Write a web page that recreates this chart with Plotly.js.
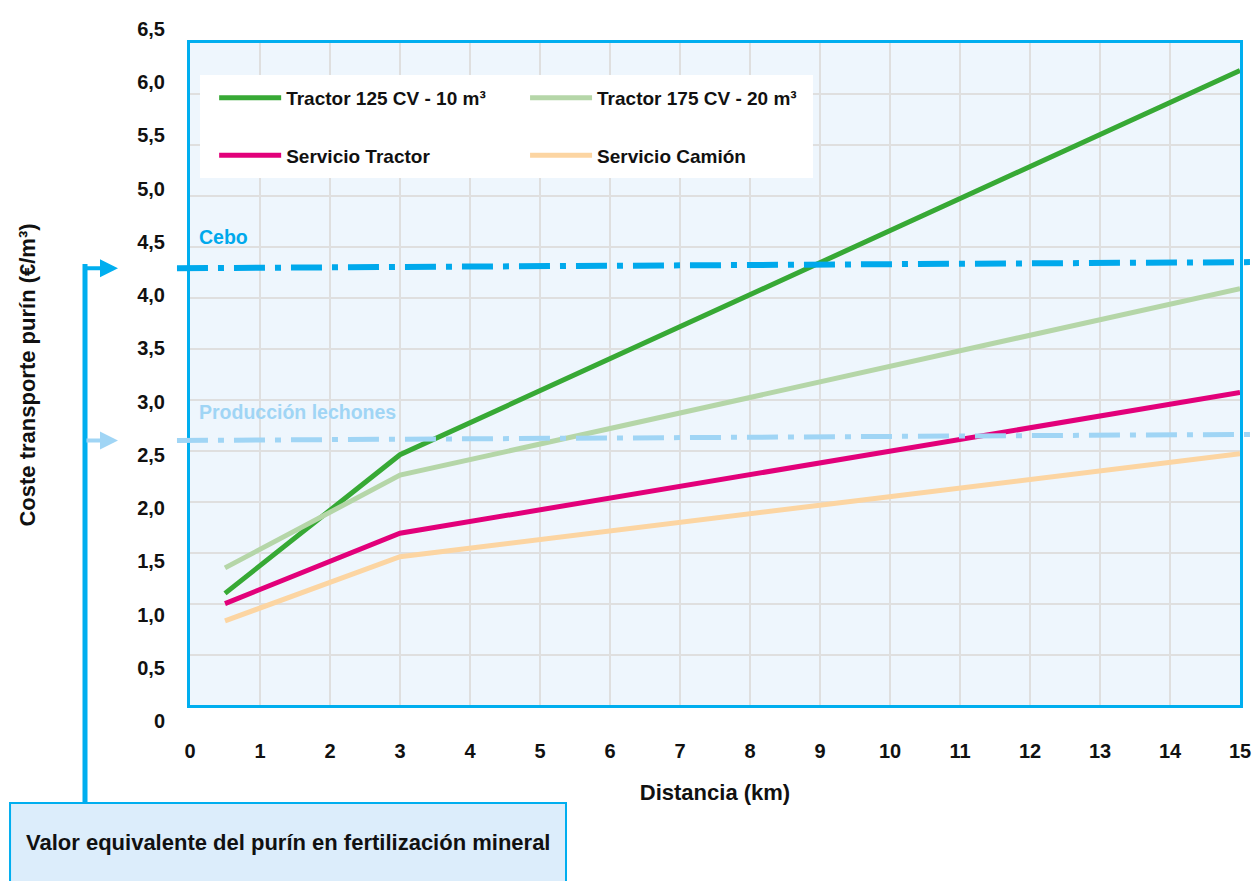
<!DOCTYPE html>
<html>
<head>
<meta charset="utf-8">
<script src="https://cdn.plot.ly/plotly-3.0.1.min.js"></script>
<style>html,body{margin:0;padding:0;background:#fff;}#chart{width:1253px;height:881px;}</style>
</head>
<body>
<div id="chart"></div>
<script>
// ---- data ----
const distanceKm = [0.5, 3, 15];
const tractor125 = [1.10, 2.46, 6.23];
const tractor175 = [1.35, 2.26, 4.09];
const servicioTractor = [1.00, 1.69, 3.07];
const servicioCamion = [0.83, 1.46, 2.47];
const ceboLevel = [4.29, 4.35];          // left end, right end
const lechonesLevel = [2.60, 2.66];      // left end, right end
const seriesNames = ['Tractor 125 CV - 10 m³', 'Tractor 175 CV - 20 m³', 'Servicio Tractor', 'Servicio Camión'];
const xTickVals = [0,1,2,3,4,5,6,7,8,9,10,11,12,13,14,15];
const yTickVals = [0,0.5,1,1.5,2,2.5,3,3.5,4,4.5,5,5.5,6,6.5];
const yTickText = ['0','0,5','1,0','1,5','2,0','2,5','3,0','3,5','4,0','4,5','5,0','5,5','6,0','6,5'];
const levelLabels = ['Cebo', 'Producción lechones'];
const xTitle = 'Distancia (km)';
const yTitle = 'Coste transporte purín (€/m³)';
const boxText = 'Valor equivalente del purín en fertilización mineral';

const FONT = "'Liberation Sans', Arial, Helvetica, sans-serif";
const BLUE = '#00a9ec';
const LIGHTBLUE = '#a0d5f5';

function lineTrace(y, name, color, legend, group) {
  return {
    x: distanceKm, y: y, name: name, type: 'scatter', mode: 'lines',
    line: {color: color, width: 5}, legend: legend, legendgroup: group,
    hoverinfo: 'skip'
  };
}

const data = [
  lineTrace(tractor125, seriesNames[0], '#37a935', 'legend', 'a'),
  lineTrace(tractor175, seriesNames[1], '#b5d6a8', 'legend2', 'c'),
  lineTrace(servicioTractor, seriesNames[2], '#e2007a', 'legend', 'b'),
  lineTrace(servicioCamion, seriesNames[3], '#fcd5a2', 'legend2', 'd'),
  {x: [null], y: [null], xaxis: 'x2', yaxis: 'y2', type: 'scatter', mode: 'lines', showlegend: false, hoverinfo: 'skip'}
];

const legendCommon = {
  orientation: 'v', bgcolor: 'rgba(0,0,0,0)', borderwidth: 0,
  font: {family: FONT, size: 19, color: '#111', weight: 'bold'},
  itemwidth: 62, tracegroupgap: 30, xanchor: 'left', yanchor: 'top',
  itemclick: false, itemdoubleclick: false
};

const layout = {
  width: 1253, height: 881,
  margin: {l: 190, r: 13, t: 29, b: 160},
  paper_bgcolor: '#ffffff', plot_bgcolor: 'rgba(0,0,0,0)',
  hovermode: false, showlegend: true,
  font: {family: FONT, color: '#111'},
  xaxis: {
    range: [0, 15], tickvals: xTickVals, showgrid: true, gridcolor: '#dfdfdf', gridwidth: 2,
    zeroline: false, showline: true, mirror: true, linecolor: '#00aeef', linewidth: 3,
    ticks: '', ticklabelstandoff: 26, ticklabeloverflow: 'allow', anchor: 'y',
    tickfont: {family: FONT, size: 20, color: '#111', weight: 'bold'},
    title: {text: xTitle, standoff: 24, font: {family: FONT, size: 22, color: '#111', weight: 'bold'}},
    automargin: 'height'
  },
  yaxis: {
    domain: [0.0224, 0.9798], range: [0, 6.5], dtick: 0.5, showticklabels: false,
    showgrid: true, gridcolor: '#dfdfdf', gridwidth: 2, zeroline: false,
    showline: true, mirror: true, linecolor: '#00aeef', linewidth: 3, ticks: '', anchor: 'x'
  },
  xaxis2: {domain: [0, 1], range: [0, 1], visible: false, anchor: 'y2'},
  yaxis2: {
    domain: [0, 1], range: [0, 6.5], anchor: 'x2', tickvals: yTickVals, ticktext: yTickText,
    showgrid: false, zeroline: false, showline: false, ticks: '', ticklabelstandoff: 24, ticklabeloverflow: 'allow',
    tickfont: {family: FONT, size: 20, color: '#111', weight: 'bold'},
    title: {text: yTitle, standoff: 95, font: {family: FONT, size: 22, color: '#111', weight: 'bold'}},
    automargin: 'width'
  },
  legend: Object.assign({}, legendCommon, {x: 0.023, y: 0.928}),
  legend2: Object.assign({}, legendCommon, {x: 0.3191, y: 0.928}),
  shapes: [
    {type: 'rect', xref: 'x', yref: 'y', x0: 0, x1: 15, y0: 0, y1: 6.5, fillcolor: '#eef6fd', line: {width: 0}, layer: 'below'},
    {type: 'rect', xref: 'paper', yref: 'paper', x0: 0.0095, x1: 0.5933, y0: 0.7847, y1: 0.9335, fillcolor: '#ffffff', line: {width: 0}, layer: 'above'},
    {type: 'line', xref: 'paper', yref: 'y', x0: -0.0124, x1: 1.0095, y0: ceboLevel[0], y1: ceboLevel[1],
     line: {color: BLUE, width: 6, dash: '31px,10px,6px,10px'}, layer: 'above'},
    {type: 'line', xref: 'paper', yref: 'y', x0: -0.0124, x1: 1.0095, y0: lechonesLevel[0], y1: lechonesLevel[1],
     line: {color: LIGHTBLUE, width: 5, dash: '31px,10px,6px,10px'}, layer: 'above'},
    {type: 'line', xref: 'paper', yref: 'paper', x0: -0.1, x1: -0.1, y0: -0.1185, y1: 0.6604, line: {color: '#00aeef', width: 5}},
    {type: 'rect', xref: 'paper', yref: 'paper', x0: -0.1714, x1: 0.3581, y0: -0.237, y1: -0.1185,
     fillcolor: '#dcedfb', line: {color: '#00aeef', width: 2}}
  ],
  annotations: [
    {xref: 'x', yref: 'y', x: 0.1, y: 4.6, text: levelLabels[0], showarrow: false, xanchor: 'left', yanchor: 'middle',
     font: {family: FONT, size: 19.5, color: BLUE, weight: 'bold'}},
    {xref: 'x', yref: 'y', x: 0.1, y: 2.88, text: levelLabels[1], showarrow: false, xanchor: 'left', yanchor: 'middle',
     font: {family: FONT, size: 19.5, color: LIGHTBLUE, weight: 'bold'}},
    {xref: 'paper', yref: 'y', x: -0.0686, y: ceboLevel[0], text: '', showarrow: true, ax: -33, ay: 0,
     arrowhead: 2, arrowsize: 0.9, arrowwidth: 4, arrowcolor: '#00aeef'},
    {xref: 'paper', yref: 'y', x: -0.0686, y: lechonesLevel[0], text: '', showarrow: true, ax: -33, ay: 0,
     arrowhead: 2, arrowsize: 0.9, arrowwidth: 4, arrowcolor: LIGHTBLUE},
    {xref: 'paper', yref: 'paper', x: 0.0933, y: -0.1749, text: boxText, showarrow: false, xanchor: 'center', yanchor: 'middle',
     font: {family: FONT, size: 22, color: '#111', weight: 'bold'}}
  ]
};

Plotly.newPlot('chart', data, layout, {displayModeBar: false, staticPlot: true});
</script>
</body>
</html>
